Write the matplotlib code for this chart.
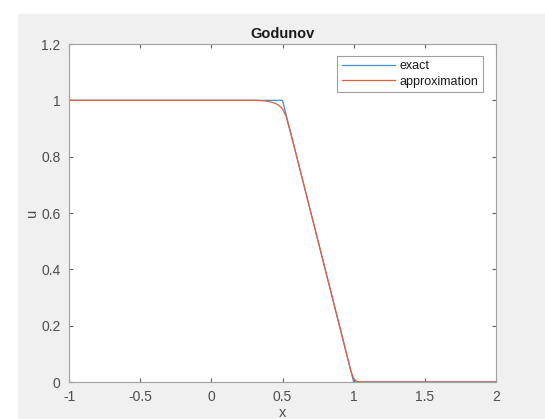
import matplotlib
matplotlib.use("Agg")
import matplotlib.pyplot as plt
from matplotlib.patches import Rectangle

# exact solution (piecewise linear breakpoints)
x_exact = [-1.0, 0.5, 1.0, 2.0]
u_exact = [1.0, 1.0, 0.0, 0.0]

# Godunov approximation
x_approx = [-1.0, 0.3, 0.35, 0.375, 0.4, 0.425, 0.45, 0.475, 0.5, 0.525, 0.55,
            0.575, 0.6, 0.7, 0.8, 0.9, 0.95, 0.98, 1.0, 1.02, 1.05, 2.0]
u_approx = [1.0, 1.0, 0.999, 0.998, 0.996, 0.993, 0.989, 0.982, 0.97, 0.943, 0.897,
            0.85, 0.8, 0.6, 0.4, 0.2, 0.1, 0.04, 0.012, 0.002, 0.0, 0.0]

x_ticks = [-1, -0.5, 0, 0.5, 1, 1.5, 2]
x_tick_labels = ["-1", "-0.5", "0", "0.5", "1", "1.5", "2"]
y_ticks = [0, 0.2, 0.4, 0.6, 0.8, 1.0, 1.2]
y_tick_labels = ["0", "0.2", "0.4", "0.6", "0.8", "1", "1.2"]

W, H = 545, 419
plt.rcParams["font.family"] = ["Liberation Sans", "DejaVu Sans"]

fig = plt.figure(figsize=(W / 100, H / 100), dpi=100, facecolor="white")
# grey MATLAB figure window area, kept behind the axes
fig.patches.append(Rectangle((18 / W, 0), 1 - 18 / W, 1 - 14 / H,
                             transform=fig.transFigure, facecolor="#f0f0f0",
                             edgecolor="none", zorder=-10))

left, right, top, bottom = 69, 496, 44, 382
ax = fig.add_axes([left / W, 1 - bottom / H, (right - left) / W, (bottom - top) / H])
ax.set_facecolor("white")

ax.plot(x_exact, u_exact, color="#3f8fd0", lw=0.9, label="exact")
ax.plot(x_approx, u_approx, color="#e0603a", lw=0.9, label="approximation")

ax.set_xlim(-1, 2)
ax.set_ylim(0, 1.2)
ax.set_xticks(x_ticks)
ax.set_xticklabels(x_tick_labels)
ax.set_yticks(y_ticks)
ax.set_yticklabels(y_tick_labels)

text_col = "#4d4d4d"
for s in ax.spines.values():
    s.set_color("#a0a0a0")
    s.set_linewidth(0.8)
ax.tick_params(direction="in", length=3, width=0.8, color="#606060",
               labelcolor=text_col, labelsize=10, top=True, right=True, pad=6)

ax.set_title("Godunov", fontsize=10.5, fontweight="bold", color="#1a1a1a", pad=4)
ax.set_xlabel("x", fontsize=10.5, color=text_col, labelpad=1)
ax.set_ylabel("u", fontsize=10.5, color=text_col, labelpad=2)

leg = ax.legend(loc="upper right", bbox_to_anchor=(483 / W, 1 - 56 / H),
                bbox_transform=fig.transFigure, fontsize=9, frameon=True,
                fancybox=False, framealpha=1, edgecolor="#a0a0a0",
                handlelength=4.3, handletextpad=0.35, borderpad=0.35,
                labelspacing=0.25, borderaxespad=0)
leg.get_frame().set_linewidth(0.8)
for t in leg.get_texts():
    t.set_color("#1a1a1a")

fig.savefig("out.png", dpi=100, facecolor=fig.get_facecolor())
